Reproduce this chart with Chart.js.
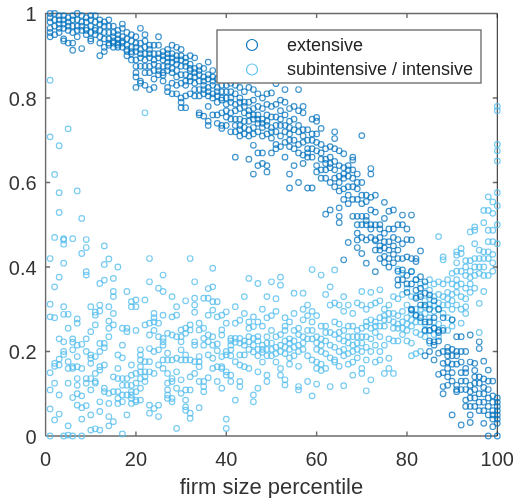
<!DOCTYPE html>
<html>
<head>
<meta charset="utf-8">
<style>
    html, body { margin: 0; padding: 0; background: #fff; }
    canvas { display: block; }
</style>
<script src="https://cdn.jsdelivr.net/npm/chart.js@4"></script>
</head>
<body>
<canvas id="firmChart" width="515" height="498"></canvas>
<script>
// ── Chart data: one list per percentile (1 to 100) ──
const SERIES_NAMES = ['extensive', 'subintensive / intensive'];
const X_TICKS = [0, 20, 40, 60, 80, 100];
const Y_TICKS = [0, 0.2, 0.4, 0.6, 0.8, 1];

const EXTENSIVE = [
    [1,.99,.98,.965,.955,.945],[1,.985,.97,.95],[.995,.985,.975,.965,.955],[.995,.985,.975,.965,.94,.935],
    [.99,.98,.97,.96,.93],[.995,.985,.97,.955,.93,.913],[1,.985,.97,.96,.945],[.995,.98,.97,.96,.917],
    [.99,.98,.965,.95,.96],[.995,.985,.97,.955,.94,.935],[.995,.98,.965,.95,.96],[.985,.975,.96,.945,.93,.9],
    [.98,.97,.955,.94,.92,.91],[.985,.97,.955,.94,.93,.925],[.97,.955,.945,.935,.93,.92],[.96,.95,.94,.93,.925,.92],
    [.975,.965,.945,.93,.92,.935],[.955,.94,.925,.915,.91,.9],[.95,.935,.92,.91,.905,.89],[.945,.93,.92,.91,.89,.875,.86,.85,.825],
    [.965,.93,.915,.905,.895,.875,.84,.835],[.95,.935,.92,.905,.89,.875,.86,.83],[.925,.915,.905,.895,.875,.86,.82],[.925,.905,.89,.88,.865,.845,.825],
    [.945,.925,.905,.895,.875,.865,.855],[.91,.9,.89,.875,.86,.854,.84],[.915,.905,.895,.885,.875,.865,.825,.815],[.925,.905,.895,.885,.87,.86,.835,.81],
    [.92,.9,.89,.88,.865,.85,.83,.81],[.915,.9,.89,.875,.855,.835,.8,.79,.777],[.895,.885,.875,.855,.84,.83,.805,.777],[.9,.88,.87,.865,.85,.84,.81],
    [.895,.87,.86,.85,.835,.82,.805],[.875,.865,.855,.84,.82,.805,.765,.76],[.87,.85,.84,.83,.82,.81,.757],[.885,.855,.845,.825,.815,.805,.78,.745,.735],
    [.865,.85,.84,.83,.81,.8,.76],[.845,.825,.815,.805,.79,.76,.74],[.85,.83,.815,.8,.795,.765,.735,.728],[.845,.83,.815,.8,.785,.77,.755,.735],
    [.835,.815,.8,.79,.765,.75,.72],[.83,.81,.785,.77,.75,.735,.72,.66],[.825,.8,.79,.775,.75,.735,.725,.71],[.815,.79,.78,.765,.745,.73,.715],
    [.825,.79,.77,.76,.745,.725,.71,.655],[.82,.795,.775,.76,.75,.73,.715,.688,.62],[.81,.78,.76,.75,.74,.72,.67,.64],[.8,.775,.75,.74,.73,.71,.67,.645],
    [.81,.785,.76,.745,.735,.715,.64,.625],[.812,.78,.755,.73,.72,.705,.67],[.834,.785,.755,.735,.72,.69,.68],[.795,.77,.75,.735,.71,.685],
    [.82,.79,.76,.735,.72,.695,.66],[.775,.745,.73,.715,.7,.685,.62,.587],[.78,.75,.725,.7,.68,.64],[.82,.77,.735,.72,.69,.67,.6],
    [.78,.765,.725,.71,.695,.665,.645],[.725,.7,.68,.67,.66,.587],[.75,.715,.7,.68,.66,.587],[.754,.745,.715,.695,.675,.64,.625],
    [.728,.69,.67,.655,.63,.61],[.68,.655,.645,.63,.61,.525],[.685,.66,.645,.635,.6,.535],[.72,.704,.68,.65,.63,.59,.61],
    [.675,.64,.615,.6,.58,.54,.52,.505],[.668,.635,.62,.61,.585,.56,.417],[.64,.63,.615,.59,.57,.55,.458],[.66,.653,.63,.61,.59,.56,.52],
    [.62,.6,.585,.56,.52,.5,.48,.464,.446],[.711,.6,.57,.55,.52,.5,.47,.432],[.57,.555,.52,.51,.5,.464,.409],[.633,.62,.565,.535,.5,.49,.47],
    [.57,.53,.5,.465,.462,.44,.389],[.5,.49,.47,.45,.44,.42],[.553,.515,.48,.46,.445,.425,.41],[.532,.49,.46,.44,.42,.4],
    [.535,.49,.47,.45,.43,.41],[.5,.465,.44,.42,.39,.37,.357],[.523,.5,.455,.42,.393,.37],[.49,.465,.424,.38,.36,.34],
    [.523,.464,.42,.389,.36,.3,.298],[.42,.413,.37,.345,.326,.286],[.438,.377,.35,.33,.31,.28],[.365,.338,.31,.27,.25,.19],
    [.334,.3,.27,.25,.225,.2],[.32,.28,.255,.223,.215,.18],[.3,.25,.245,.225,.196,.146],[.28,.25,.2,.172,.15,.117,.1],
    [.21,.2,.19,.175,.16,.14,.12],[.275,.205,.19,.17,.15,.13,.05],[.235,.2,.19,.17,.12,.11,.105],[.235,.2,.175,.15,.13,.11,.026],
    [.2,.16,.15,.13,.11,.085,.07],[.239,.175,.12,.105,.09,.07,.05,.032],[.172,.155,.14,.125,.11,.09,.07],[.223,.207,.14,.125,.1,.08,.06],
    [.177,.135,.115,.1,.08,.06,.03],[.156,.13,.11,.09,.07,.05,0],[.13,.095,.08,.06,.05,.04,.022],[.09,.08,.07,.06,.05,.04,.03,0]
];

const SUBINTENSIVE = [
    [.842,.708,.42,.312,.282,.15,.109,.064,0],[.619,.47,.353,.28,.172,.165,.125,.038],[.687,.576,.529,.376,.23,.182,.168,.097,.052],[.467,.464,.454,.409,.306,.288,.223,.2,.193,0],
    [.727,.288,.255,.176,.16,.125,.024,.002],[.467,.23,.222,.204,.164,.16,.091,0],[.58,.277,.267,.215,.188,.164,.136,.12,.1,.073],[.515,.432,.217,.16,.095,.067,.04,0],
    [.465,.446,.389,.381,.23,.2,.136,.125,.072],[.306,.247,.192,.184,.172,.136,.109,.05,.014],[.293,.286,.263,.188,.148,.129,.125,.017],[.361,.31,.296,.219,.2,.164,.156,.081,.058,.014],
    [.45,.406,.369,.219,.209,.168,.113,.105],[.419,.306,.272,.255,.235,.101,.077,.046,.024],[.373,.342,.33,.29,.263,.14,.105,.034],[.4,.192,.16,.136,.105,.089,.077],
    [.255,.215,.185,.136,.12,.097,.081,.005],[.342,.255,.247,.136,.12,.097,.05],[.318,.306,.168,.144,.12,.105,.097,.089,.077],[.322,.306,.25,.148,.125,.105,.085,.081],
    [.204,.192,.18,.164,.152,.136,.113,.085],[.765,.322,.263,.176,.152,.14,.129],[.42,.365,.267,.239,.207,.176,.152,.073,.054],[.29,.28,.27,.25,.2,.148,.065],
    [.35,.267,.235,.204,.168,.073,.046],[.381,.342,.286,.231,.223,.215,.18,.16],[.243,.196,.18,.148,.125,.109,.097,.089],[.33,.282,.239,.18,.136,.129,.089,.081],
    [.306,.286,.235,.184,.152,.113,.018],[.251,.235,.223,.204,.18,.133,.101],[.32,.255,.243,.192,.18,.109,.085,.069,.061],[.42,.263,.251,.18,.14,.109,.054,.042],
    [.365,.326,.31,.293,.223,.215,.176,.148],[.267,.251,.188,.176,.164,.129,.067],[.326,.255,.231,.215,.129,.117,.105],[.349,.326,.286,.239,.223,.192,.138],
    [.397,.353,.318,.298,.235,.215,.184,.16],[.318,.282,.218,.202,.164,.129],[.286,.251,.239,.188,.16,.164,.113],[.294,.267,.2,.192,.152,.144,.04,.018],
    [.231,.225,.215,.204,.19,.144,.129],[.306,.267,.231,.222,.176,.085],[.274,.231,.22,.192,.168,.129,.117],[.33,.29,.225,.215,.192,.164],
    [.373,.27,.255,.235,.223,.205,.16],[.282,.259,.231,.215,.199,.097,.081],[.361,.27,.235,.225,.205,.19,.152,.113],[.3,.26,.215,.205,.198,.175],
    [.33,.28,.235,.22,.205,.19,.144,.129],[.365,.285,.25,.22,.205,.19],[.325,.295,.235,.21,.195,.175],[.376,.357,.24,.215,.2,.16,.144],
    [.28,.26,.25,.225,.21,.195,.133,.121],[.27,.23,.22,.205,.185,.17],[.338,.29,.25,.225,.21,.19],[.255,.24,.215,.2,.165,.117,.109],
    [.338,.3,.275,.235,.22,.205],[.31,.285,.25,.23,.19,.129],[.394,.295,.27,.25,.23,.18,.095],[.285,.235,.22,.205,.175,.16,.123],
    [.381,.26,.23,.215,.2,.17,.155],[.335,.26,.245,.225,.195,.16],[.353,.31,.245,.215,.185,.117],[.393,.315,.27,.24,.21,.18,.175],
    [.31,.265,.245,.23,.2,.165],[.33,.295,.25,.225,.205,.19,.119],[.31,.26,.235,.22,.195,.17],[.29,.26,.235,.215,.2,.175,.144],
    [.315,.25,.235,.22,.205,.185],[.342,.31,.255,.235,.22,.2,.16,.148],[.3,.27,.26,.235,.21,.18,.107],[.34,.31,.275,.255,.23,.2,.133],
    [.315,.27,.26,.245,.215,.175],[.346,.32,.28,.26,.235,.2,.18],[.3,.285,.275,.26,.215,.148],[.31,.29,.275,.23,.184,.16],
    [.33,.29,.27,.255,.225,.148],[.395,.325,.285,.265,.255,.225],[.385,.335,.295,.27,.255,.24],[.35,.31,.28,.265,.25,.225],
    [.39,.33,.29,.275,.26,.22,.19],[.37,.33,.3,.285,.27,.245,.195],[.36,.335,.3,.285,.27,.24,.2],[.355,.32,.305,.29,.265,.25,.235],
    [.37,.345,.325,.31,.28,.25,.22],[.36,.33,.31,.295,.27,.255,.24],[.472,.365,.335,.315,.3,.265,.235],[.424,.417,.36,.33,.31,.29,.255],
    [.37,.34,.325,.31,.28,.25],[.385,.36,.335,.32,.3,.275,.26],[.436,.428,.41,.39,.37,.355,.34,.31],[.444,.432,.39,.36,.33,.3,.267],
    [.415,.4,.38,.35,.325,.306,.29],[.483,.415,.39,.375,.36,.34],[.495,.487,.455,.42,.4,.38,.35],[.44,.42,.4,.385,.314,.245],
    [.534,.505,.436,.42,.4,.38,.342],[.566,.534,.487,.46,.436,.42,.38],[.554,.527,.487,.46,.43,.41,.39],[.78,.77,.69,.675,.651,.576,.545,.5,.455]
];

// ── Small drawing helpers ────────────────────────────────────────
const EXT_COLOR = 'rgba(0,114,189,0.75)';
const SUB_COLOR = 'rgba(86,190,238,0.8)';
const AXIS_COLOR = '#6a6a6a';
const TEXT_COLOR = '#333333';
const FONT_FAMILY = '"Liberation Sans", Arial, sans-serif';

function toPoints(columns) {
    var pts = [];
    columns.forEach(function (col, i) {
        col.forEach(function (v) { pts.push({ x: i + 1, y: v }); });
    });
    return pts;
}

function plainTick(v) { return String(v); }

// tick labels may hang past the plot area, so no extra room for them
function noScalePadding(s) {
    s.paddingLeft = 0; s.paddingRight = 0; s.paddingTop = 0; s.paddingBottom = 0;
}

// MATLAB style box with inward ticks
const axisBox = {
    id: 'axisBox',
    beforeDatasetsDraw: function (chart) {
        var c = chart.ctx, a = chart.chartArea;
        c.save();
        c.strokeStyle = AXIS_COLOR;
        c.lineWidth = 1.4;
        c.beginPath();
        c.moveTo(a.left, a.bottom); c.lineTo(a.left, a.top); c.lineTo(a.right, a.top);
        c.moveTo(a.left, a.bottom); c.lineTo(a.right, a.bottom);
        chart.scales.x.ticks.forEach(function (t) {
            var px = chart.scales.x.getPixelForValue(t.value);
            c.moveTo(px, a.bottom); c.lineTo(px, a.bottom - 4.5);
            c.moveTo(px, a.top); c.lineTo(px, a.top + 4.5);
        });
        chart.scales.y.ticks.forEach(function (t) {
            var py = chart.scales.y.getPixelForValue(t.value);
            c.moveTo(a.left, py); c.lineTo(a.left + 4.5, py);
            c.moveTo(a.right, py); c.lineTo(a.right - 4.5, py);
        });
        c.stroke();
        c.strokeStyle = '#222';
        c.lineWidth = 1;
        c.beginPath();
        c.moveTo(a.right, a.top); c.lineTo(a.right, a.bottom);
        c.stroke();
        c.restore();
    }
};

// Legend box sits on top of the points
const legendBox = {
    id: 'legendBox',
    afterDatasetsDraw: function (chart) {
        var c = chart.ctx;
        c.save();
        c.fillStyle = '#fff';
        c.fillRect(217, 30, 264, 53);
        c.strokeStyle = '#666';
        c.lineWidth = 1.3;
        c.strokeRect(217, 30, 264, 53);
        c.font = '18px ' + FONT_FAMILY;
        c.textBaseline = 'middle';
        SERIES_NAMES.forEach(function (name, i) {
            var y = 45 + i * 24.5;
            c.strokeStyle = i === 0 ? '#0072bd' : '#5cc3f2';
            c.lineWidth = 1.2;
            c.beginPath();
            c.arc(252, y, 5.5, 0, Math.PI * 2);
            c.stroke();
            c.fillStyle = '#222';
            c.fillText(name, 287, y + 1);
        });
        c.restore();
    }
};

new Chart(document.getElementById('firmChart'), {
    type: 'scatter',
    data: {
        datasets: [
            {
                label: SERIES_NAMES[0],
                data: toPoints(EXTENSIVE),
                borderColor: EXT_COLOR,
                backgroundColor: 'transparent',
                pointRadius: 2.8, borderWidth: 1.2, clip: false
            },
            {
                label: SERIES_NAMES[1],
                data: toPoints(SUBINTENSIVE),
                borderColor: SUB_COLOR,
                backgroundColor: 'transparent',
                pointRadius: 2.8, borderWidth: 1.2, clip: false
            }
        ]
    },
    plugins: [axisBox, legendBox],
    options: {
        responsive: false,
        animation: false,
        layout: { padding: { top: 13.5, right: 17.7, left: 0, bottom: 0 } },
        plugins: { legend: { display: false }, tooltip: { enabled: false } },
        scales: {
            x: {
                type: 'linear', min: 0, max: 100,
                afterBuildTicks: function (s) { s.ticks = X_TICKS.map(function (v) { return { value: v }; }); },
                afterFit: function (s) { s.height = 62; noScalePadding(s); },
                grid: { display: false, drawTicks: false },
                border: { display: false },
                ticks: { color: TEXT_COLOR, font: { size: 20, family: FONT_FAMILY }, maxRotation: 0, padding: 12, callback: plainTick },
                title: { display: true, text: 'firm size percentile', color: TEXT_COLOR, font: { size: 22, family: FONT_FAMILY }, padding: { top: 2, bottom: -3 } }
            },
            y: {
                type: 'linear', min: 0, max: 1,
                afterBuildTicks: function (s) { s.ticks = Y_TICKS.map(function (v) { return { value: v }; }); },
                afterFit: function (s) { s.width = 45.6; noScalePadding(s); },
                grid: { display: false, drawTicks: false },
                border: { display: false },
                ticks: { color: TEXT_COLOR, font: { size: 20, family: FONT_FAMILY }, padding: 9, labelOffset: 2, callback: plainTick }
            }
        }
    }
});
</script>
</body>
</html>
